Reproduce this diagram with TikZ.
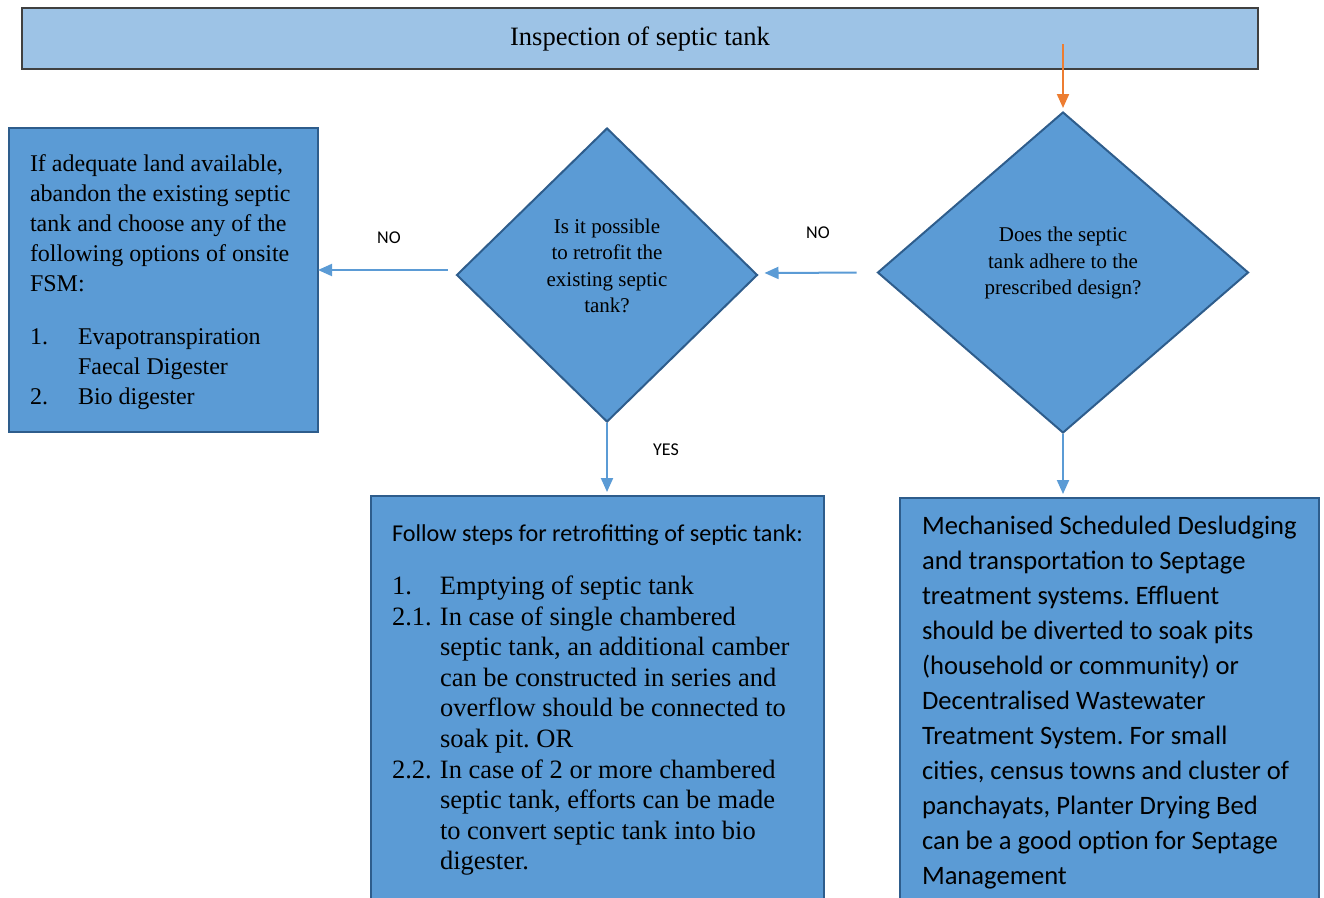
\documentclass[tikz,border=0pt]{standalone}
\usepackage{fontspec}
\setmainfont{Liberation Serif}
\setsansfont{Carlito}
\usetikzlibrary{shapes.geometric,arrows.meta}
\definecolor{boxblue}{HTML}{5B9BD5}
\definecolor{paleblue}{HTML}{9DC3E6}
\definecolor{edgeblue}{HTML}{2E5D8C}
\definecolor{flowblue}{HTML}{5B9BD5}
\definecolor{floworange}{HTML}{ED7D31}
\newcommand{\fsmitem}[2]{\par\noindent\hangindent=48pt\hangafter=1\makebox[48pt][l]{#1}#2}

\begin{document}
\begin{tikzpicture}[x=1pt,y=-1pt,
  banner/.style={draw=black!75,line width=1.5pt,fill=paleblue,minimum width=1236,minimum height=61,inner sep=0pt,font=\fontsize{26.5}{30}\selectfont},
  decision/.style={diamond,draw=edgeblue,line width=2pt,fill=boxblue,inner sep=0pt},
  qtext/.style={align=center,inner sep=0pt,font=\fontsize{21}{26.5}\selectfont},
  infobox/.style={draw=edgeblue,line width=2.5pt,fill=boxblue,anchor=north west,outer sep=0pt},
  tag/.style={inner sep=0pt,font=\sffamily\fontsize{18}{20}\selectfont},
  flow/.style={draw=flowblue,line width=2pt,-{Triangle[length=14pt,width=12pt]}}]
\useasboundingbox (0,0) rectangle (1324,897);
\clip (0,0) rectangle (1324,897);
\frenchspacing
\node (inspect) [banner] at (640,38.5) {Inspection of septic tank};
\node (adhere) [decision,minimum width=371,minimum height=321] at (1063,272.5) {};
\node (adhereq) [qtext] at (1063,263) {Does the septic\\tank adhere to the\\prescribed design?};
\node (retrofit) [decision,minimum width=301,minimum height=294] at (607,275) {};
\node (retrofitq) [qtext] at (607,266) {Is it possible\\to retrofit the\\existing septic\\tank?};
\node (abandon) [infobox,inner xsep=21pt,inner ysep=26.5pt] at (9,128) {\parbox[t][251pt][t]{267pt}{\fontsize{24}{30}\selectfont\raggedright\frenchspacing
  If adequate land available,\\ abandon the existing septic\\ tank and choose any of the\\ following options of onsite\\ FSM:\par\vspace{23pt}%
  \fsmitem{1.}{Evapotranspiration\newline Faecal Digester}\fsmitem{2.}{Bio digester}\par}};
\node (steps) [infobox,inner xsep=21pt,inner ysep=29pt] at (371,496) {\parbox[t][351pt][t]{411pt}{\raggedright\frenchspacing
  {\sffamily\fontsize{24.2}{30}\selectfont Follow steps for retrofitting of septic tank:\par}\vspace{22pt}%
  \fontsize{26.5}{30.6}\selectfont
  \fsmitem{1.}{Emptying of septic tank}%
  \fsmitem{2.1.}{In case of single chambered\newline septic tank, an additional camber\newline can be constructed in series and\newline overflow should be connected to\newline soak pit. OR}%
  \fsmitem{2.2.}{In case of 2 or more chambered\newline septic tank, efforts can be made\newline to convert septic tank into bio\newline digester.}\par}};
\node (desludge) [infobox,inner xsep=22pt,inner ysep=18pt] at (900,498) {\parbox[t][373pt][t]{375pt}{\sffamily\fontsize{26.6}{35}\selectfont\raggedright\frenchspacing
  Mechanised Scheduled Desludging\\ and transportation to Septage\\ treatment systems. Effluent\\ should be diverted to soak pits\\ (household or community) or\\ Decentralised Wastewater\\ Treatment System. For small\\ cities, census towns and cluster of\\ panchayats, Planter Drying Bed\\ can be a good option for Septage\\ Management\par}};
\coordinate (start) at (1063,44);
\draw [flow,draw=floworange,shorten >=3pt] (start) -- (adhere.north);
\draw [flow,shorten <=20pt,shorten >=6pt] (adhere.west) -- ([yshift=2pt]retrofit.east);
\draw [flow,shorten <=8pt] ([yshift=5pt]retrofit.west) -- ([yshift=5pt]retrofit.west -| abandon.east);
\draw [flow,shorten >=4pt] (retrofit.south) -- (retrofit.south |- steps.north);
\draw [flow,shorten >=4pt] (adhere.south) -- (adhere.south |- desludge.north);
\node (noright) [tag] at (818,233) {NO};
\node (noleft) [tag] at (389,238) {NO};
\node (yes) [tag] at (666,450) {YES};
\end{tikzpicture}
\end{document}
